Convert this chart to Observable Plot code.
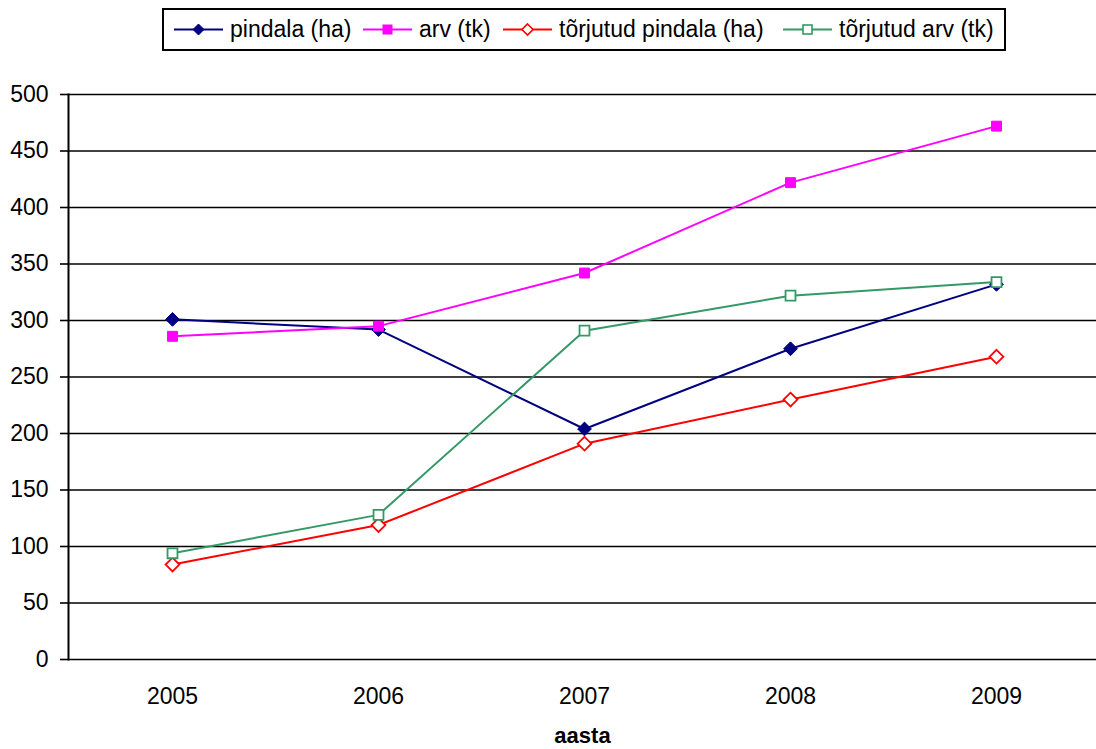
<!DOCTYPE html>
<html>
<head>
<meta charset="utf-8">
<script src="https://cdn.jsdelivr.net/npm/d3@7"></script>
<script src="https://cdn.jsdelivr.net/npm/@observablehq/plot@0.6"></script>
<style>
  html, body { margin: 0; padding: 0; background: #fff; }
  body { width: 1096px; height: 749px; overflow: hidden; font-family: "Liberation Sans", Arial, sans-serif; }
  #legendWrap { position: relative; height: 60px; width: 1096px; }
  #legend { position: absolute; left: 162px; top: 8px; width: 844px; height: 43px; box-sizing: border-box; border: 2px solid #000; }
  .item { position: absolute; top: 0; height: 39px; display: flex; align-items: center; font-size: 23px; color: #000; white-space: nowrap; }
  .item svg { margin-right: 7px; }
  #chart svg { display: block; }
</style>
</head>
<body>
<div id="legendWrap"><div id="legend"></div></div>
<div id="chart"></div>
<script>
const years = ["2005", "2006", "2007", "2008", "2009"];
const pindala = [301, 292, 204, 275, 332];
const arv = [286, 295, 342, 422, 472];
const torjutudPindala = [84, 119, 191, 230, 268];
const torjutudArv = [94, 128, 291, 322, 334];
const seriesNames = ["pindala (ha)", "arv (tk)", "tõrjutud pindala (ha)", "tõrjutud arv (tk)"];
const seriesValues = [pindala, arv, torjutudPindala, torjutudArv];
const seriesColors = ["#000080", "#FF00FF", "#FF0000", "#339966"];
const seriesSymbols = ["diamond2", "square", "diamond2", "square"];
const seriesFills = ["#000080", "#FF00FF", "#FFFFFF", "#FFFFFF"];
const yTicks = [0, 50, 100, 150, 200, 250, 300, 350, 400, 450, 500];
const xLabel = "aasta";

// Legend
const legendLefts = [10, 199, 339, 619];
const legend = document.getElementById("legend");
seriesNames.forEach((name, i) => {
  const item = document.createElement("div");
  item.className = "item";
  item.style.left = legendLefts[i] + "px";
  const c = seriesColors[i], f = seriesFills[i];
  let marker;
  if (seriesSymbols[i] === "diamond2") {
    marker = `<path d="M24.5,5 L30,10.5 L24.5,16 L19,10.5 Z" fill="${f}" stroke="${c}" stroke-width="${f === '#FFFFFF' ? 1.6 : 1}"/>`;
  } else {
    marker = `<rect x="20" y="6" width="9" height="9" fill="${f}" stroke="${c}" stroke-width="${f === '#FFFFFF' ? 1.6 : 1}"/>`;
  }
  item.innerHTML = `<svg width="49" height="21"><line x1="0" x2="49" y1="10.5" y2="10.5" stroke="${c}" stroke-width="2"/>${marker}</svg><span>${name}</span>`;
  legend.appendChild(item);
});

// Data rows
const rows = [];
seriesNames.forEach((s, i) => {
  years.forEach((y, j) => rows.push({series: s, year: y, value: seriesValues[i][j]}));
});

const marks = [
  Plot.ruleY(yTicks, {stroke: "#000", strokeWidth: 1.6}),
  Plot.frame({anchor: "left", stroke: "#000", strokeWidth: 2}),
  Plot.axisY({ticks: yTicks, tickSize: 8, tickPadding: 12, tickFormat: d => String(d), label: null, fontSize: 23, strokeWidth: 1.6}),
  Plot.axisX({tickSize: 0, tickPadding: 28, label: null, fontSize: 23}),
  Plot.text([xLabel], {frameAnchor: "bottom", lineAnchor: "middle", dy: 76, fontWeight: "bold", fontSize: 22, fill: "#000"})
];
seriesNames.forEach((s, i) => {
  const data = rows.filter(r => r.series === s);
  marks.push(Plot.line(data, {x: "year", y: "value", stroke: seriesColors[i], strokeWidth: 2}));
});
seriesNames.forEach((s, i) => {
  const data = rows.filter(r => r.series === s);
  const hollow = seriesFills[i] === "#FFFFFF";
  marks.push(Plot.dot(data, {
    x: "year", y: "value",
    symbol: () => seriesSymbols[i],
    r: seriesSymbols[i] === "square" ? 5.6 : 6.2,
    fill: seriesFills[i], stroke: seriesColors[i], strokeWidth: hollow ? 1.8 : 1
  }));
});

const chart = Plot.plot({
  width: 1096,
  height: 689,
  marginTop: 34,
  marginBottom: 90,
  marginLeft: 68,
  marginRight: 0,
  x: {type: "point", domain: years, range: [68, 1100], padding: 0.5},
  y: {domain: [0, 500], range: [599, 34]},
  symbol: {type: "identity"},
  style: {fontFamily: "'Liberation Sans', Arial, sans-serif", fontSize: "23px", color: "#000", background: "#fff", overflow: "visible"},
  marks
});
document.getElementById("chart").appendChild(chart);
</script>
</body>
</html>
